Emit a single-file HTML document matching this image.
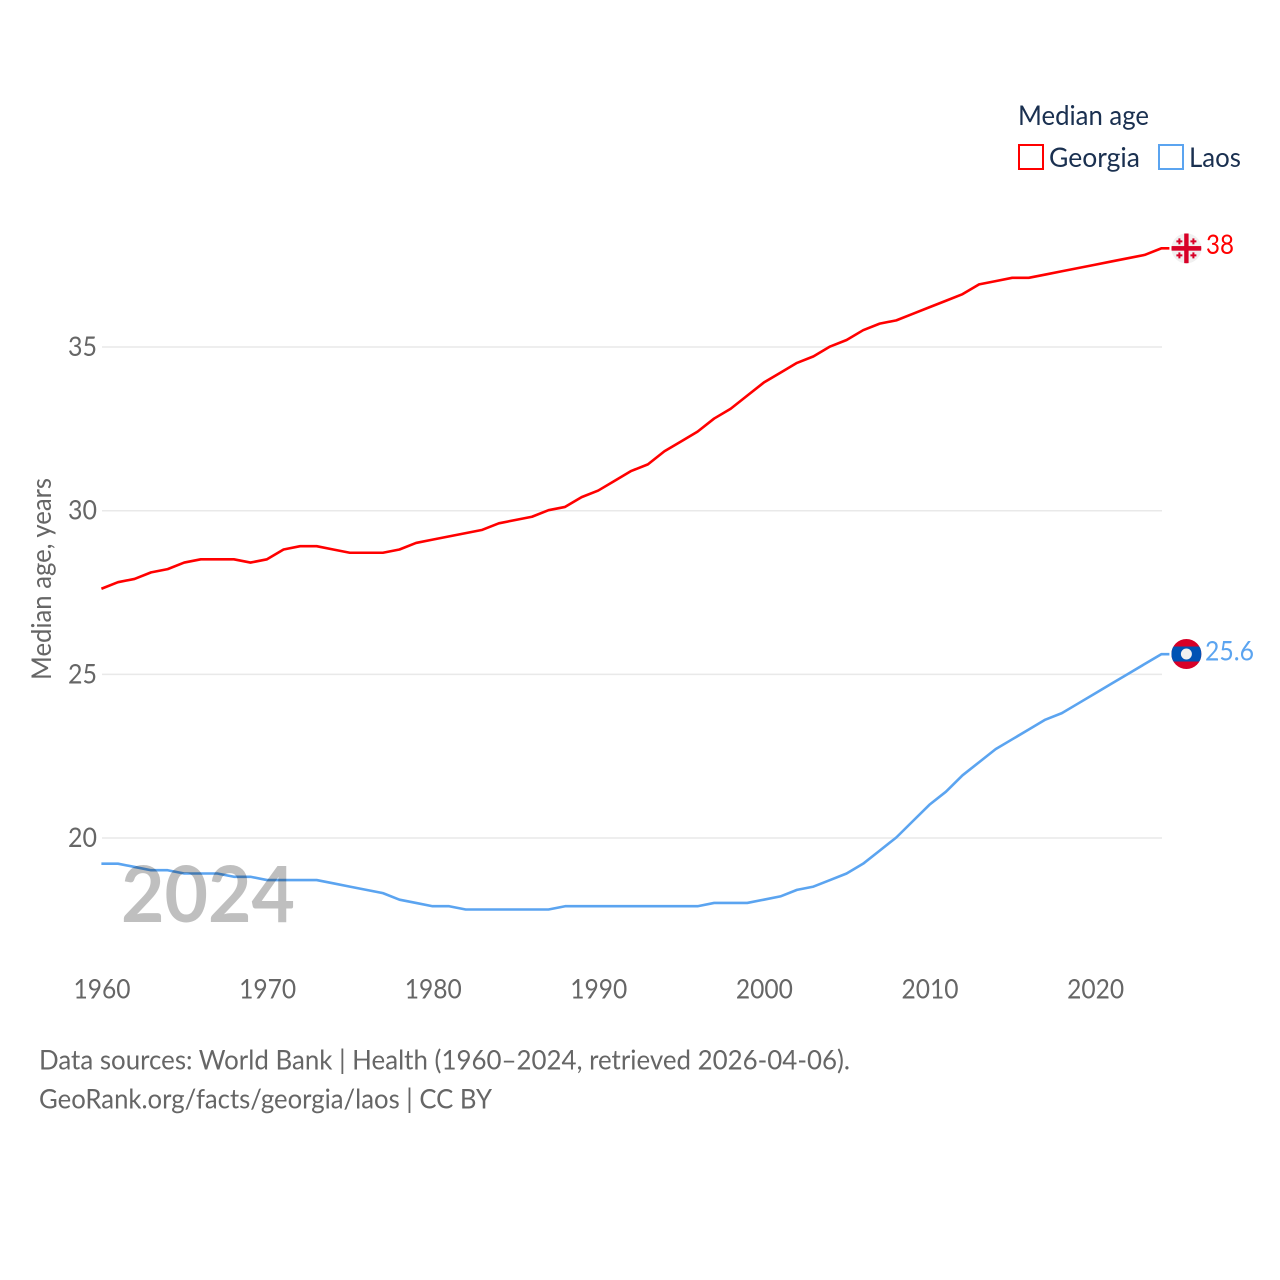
<!DOCTYPE html>
<html lang="en">
<head>
<meta charset="utf-8">
<title>Median age: Georgia and Laos</title>
<style>
html,body{margin:0;padding:0;background:#fff;width:1280px;height:1280px;overflow:hidden}
svg{display:block}
text{font-family:"Lato","Carlito","Liberation Sans",sans-serif}
</style>
</head>
<body>
<svg id="chart" xmlns="http://www.w3.org/2000/svg" width="1280" height="1280" viewBox="0 0 1280 1280">
  <rect width="1280" height="1280" fill="#fff"/>
  <g id="grid"></g>
  <g id="yticks"></g>
  <g id="xticks"></g>
  <text transform="translate(51 579) rotate(-90)" text-anchor="middle" font-size="27" fill="#666" textLength="202" lengthAdjust="spacingAndGlyphs">Median age, years</text>
  <g id="series" transform="translate(-0.6 -0.5)"></g>
  <text x="121" y="922" font-size="78" font-weight="bold" fill="#000" fill-opacity="0.25" textLength="174" lengthAdjust="spacingAndGlyphs">2024</text>

  <g>
    <text x="1018" y="125" font-size="27" fill="#1a3050" textLength="131" lengthAdjust="spacingAndGlyphs">Median age</text>
    <g>
      <rect x="1019" y="145" width="24" height="24" fill="none" stroke="#ff0000" stroke-width="2"/>
      <text x="1049" y="167" font-size="27" fill="#1a3050" textLength="91" lengthAdjust="spacingAndGlyphs">Georgia</text>
    </g>
    <g>
      <rect x="1159" y="145" width="24" height="24" fill="none" stroke="#5ba4f0" stroke-width="2"/>
      <text x="1189" y="167" font-size="27" fill="#1a3050" textLength="52" lengthAdjust="spacingAndGlyphs">Laos</text>
    </g>
  </g>

  <g id="flag-georgia">
    <defs>
      <clipPath id="clip-ge"><circle r="15"/></clipPath>
      <clipPath id="clip-la"><circle r="15"/></clipPath>
    </defs>
    <g clip-path="url(#clip-ge)">
      <rect x="-15" y="-15" width="30" height="30" fill="#f0f0f0"/>
      <rect x="-15" y="-2.3" width="30" height="4.6" fill="#d80027"/>
      <rect x="-2.2" y="-15" width="4.4" height="30" fill="#d80027"/>
      <path fill="#d80027" d="M-8-10h2v2h2v2h-2v2h-2v-2h-2v-2h2zM6-10h2v2h2v2h-2v2h-2v-2h-2v-2h2zM-8 4h2v2h2v2h-2v2h-2v-2h-2v-2h2zM6 4h2v2h2v2h-2v2h-2v-2h-2v-2h2z"/>
    </g>
  </g>
  <g id="flag-laos">
    <g clip-path="url(#clip-la)">
      <rect x="-15" y="-15" width="30" height="30" fill="#d80027"/>
      <rect x="-15" y="-7.5" width="30" height="15" fill="#0052b4"/>
      <circle r="5.5" fill="#f0f0f0"/>
    </g>
  </g>
  <text id="value-georgia" x="1206" font-size="27" fill="#ff0000" textLength="28" lengthAdjust="spacingAndGlyphs"></text>
  <text id="value-laos" x="1205" font-size="27" fill="#5ba4f0" textLength="49" lengthAdjust="spacingAndGlyphs"></text>

  <g>
    <text x="39" y="1069.7" font-size="27" fill="#666" textLength="811" lengthAdjust="spacingAndGlyphs">Data sources: World Bank | Health (1960–2024, retrieved 2026-04-06).</text>
    <text x="39" y="1108.7" font-size="27" fill="#666" textLength="453" lengthAdjust="spacingAndGlyphs">GeoRank.org/facts/georgia/laos | CC BY</text>
  </g>
</svg>
<script>
const startYear = 1960;
const xTickLabels = [1960, 1970, 1980, 1990, 2000, 2010, 2020];
const yTickLabels = [20, 25, 30, 35];
const georgiaValues = [27.6,27.8,27.9,28.1,28.2,28.4,28.5,28.5,28.5,28.4,28.5,28.8,28.9,28.9,28.8,28.7,28.7,28.7,28.8,29.0,29.1,29.2,29.3,29.4,29.6,29.7,29.8,30.0,30.1,30.4,30.6,30.9,31.2,31.4,31.8,32.1,32.4,32.8,33.1,33.5,33.9,34.2,34.5,34.7,35.0,35.2,35.5,35.7,35.8,36.0,36.2,36.4,36.6,36.9,37.0,37.1,37.1,37.2,37.3,37.4,37.5,37.6,37.7,37.8,38.0];
const laosValues = [19.2,19.2,19.1,19.0,19.0,18.9,18.9,18.9,18.8,18.8,18.7,18.7,18.7,18.7,18.6,18.5,18.4,18.3,18.1,18.0,17.9,17.9,17.8,17.8,17.8,17.8,17.8,17.8,17.9,17.9,17.9,17.9,17.9,17.9,17.9,17.9,17.9,18.0,18.0,18.0,18.1,18.2,18.4,18.5,18.7,18.9,19.2,19.6,20.0,20.5,21.0,21.4,21.9,22.3,22.7,23.0,23.3,23.6,23.8,24.1,24.4,24.7,25.0,25.3,25.6];

const NS = 'http://www.w3.org/2000/svg';
const xScale = function (year) { return 102 + (year - 1960) * 16.56; };
const yScale = function (v) { return 838 - (v - 20) * 32.73; };
const plotLeft = 102, plotRight = 1162, connectorEnd = 1170, flagX = 1186.4;

function make(tag, parent, attrs) {
  const el = document.createElementNS(NS, tag);
  Object.keys(attrs).forEach(function (k) { el.setAttribute(k, attrs[k]); });
  parent.appendChild(el);
  return el;
}

const gridGroup = document.getElementById('grid');
const yTickGroup = document.getElementById('yticks');
yTickLabels.forEach(function (t) {
  const line = make('line', gridGroup, {x1: plotLeft, x2: plotRight, y1: yScale(t), y2: yScale(t), stroke: '#e9e9e9', 'stroke-width': 1.5});
  
  
  const label = make('text', yTickGroup, {x: 97, y: yScale(t) + 9, 'text-anchor': 'end', 'font-size': 27, fill: '#666', textLength: 29, lengthAdjust: 'spacingAndGlyphs'});
  label.textContent = t;
  
  
});

const xTickGroup = document.getElementById('xticks');
xTickLabels.forEach(function (t) {
  const label = make('text', xTickGroup, {x: xScale(t), y: 998.5, 'text-anchor': 'middle', 'font-size': 27, fill: '#666', textLength: 57, lengthAdjust: 'spacingAndGlyphs'});
  label.textContent = t;
  
  
});

const seriesGroup = document.getElementById('series');
function linePath(values) {
  let d = values.map(function (v, i) {
    return (i ? 'L' : 'M') + xScale(startYear + i).toFixed(2) + ' ' + yScale(v).toFixed(2);
  }).join('');
  return d + 'L' + connectorEnd + ' ' + yScale(values[values.length - 1]).toFixed(2);
}

const georgiaLine = make('path', seriesGroup, {d: linePath(georgiaValues), fill: 'none', stroke: '#ff0000', 'stroke-width': 2.6, 'stroke-linejoin': 'round'});



const laosLine = make('path', seriesGroup, {d: linePath(laosValues), fill: 'none', stroke: '#5ba4f0', 'stroke-width': 2.6, 'stroke-linejoin': 'round'});



const georgiaLast = georgiaValues[georgiaValues.length - 1];
const laosLast = laosValues[laosValues.length - 1];
document.getElementById('flag-georgia').setAttribute('transform', 'translate(' + flagX + ' ' + (yScale(georgiaLast) - 0.5) + ')');
document.getElementById('flag-laos').setAttribute('transform', 'translate(' + flagX + ' ' + (yScale(laosLast) - 0.7) + ')');
const valueGeorgia = document.getElementById('value-georgia');
valueGeorgia.textContent = georgiaLast;
valueGeorgia.setAttribute('y', yScale(georgiaLast) + 5.3);
const valueLaos = document.getElementById('value-laos');
valueLaos.textContent = laosLast;
valueLaos.setAttribute('y', yScale(laosLast) + 6);
</script>
</body>
</html>
